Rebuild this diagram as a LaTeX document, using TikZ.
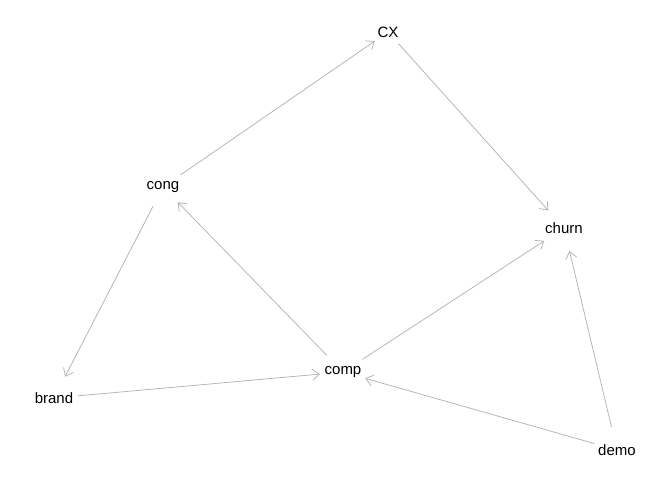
\documentclass[tikz,border=0pt]{standalone}
\usepackage{tikz}
\usepackage{fontspec}
\setmainfont{Liberation Sans}
\usetikzlibrary{arrows.meta}

\begin{document}
\begin{tikzpicture}[>={Straight Barb[length=7pt,width=11pt]}, x=1pt, y=-1pt, font=\fontsize{15}{18}\selectfont,
  var/.style={circle, inner sep=3pt},
  edge/.style={->, draw=black!30, line width=0.75pt}]

\useasboundingbox (0, 0) rectangle (672, 480);

\node[var] (CX) at (388, 32) {CX};
\node[var] (cong) at (163, 187) {cong};
\node[var] (churn) at (564, 228) {churn};
\node[var] (brand) at (54, 398) {brand};
\node[var] (comp) at (343, 372) {comp};
\node[var] (demo) at (617, 450) {demo};

\draw[edge] (cong) -- (CX);
\draw[edge] (CX) -- (churn);
\draw[edge] (cong) -- (brand);
\draw[edge] (comp) -- (cong);
\draw[edge] (comp) -- (churn);
\draw[edge] (brand) -- (comp);
\draw[edge] (demo) -- (comp);
\draw[edge] (demo) -- (churn);

\end{tikzpicture}
\end{document}
